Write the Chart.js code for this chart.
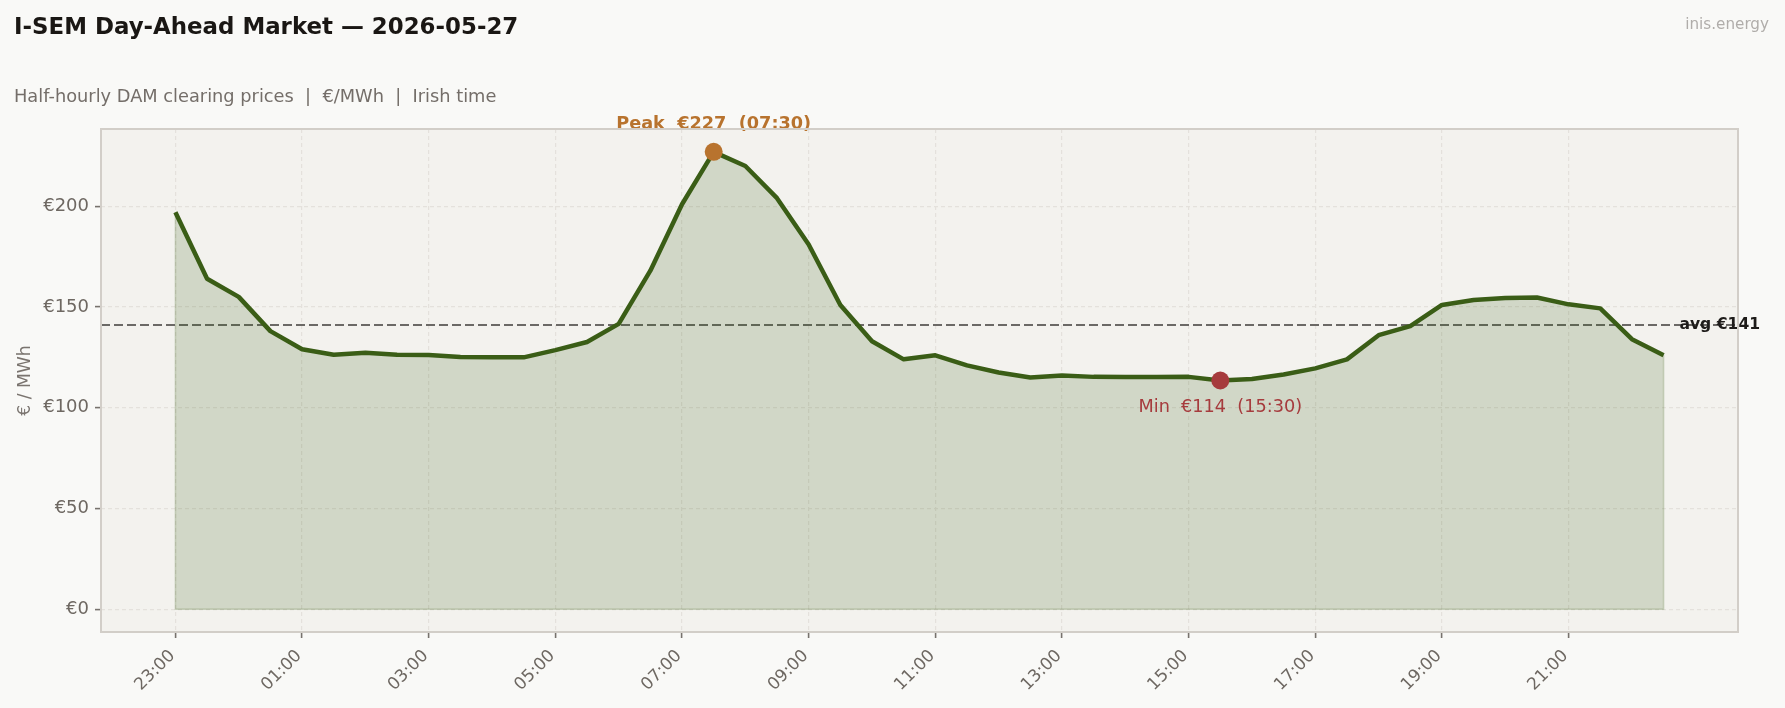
<!DOCTYPE html>
<html>
<head>
<meta charset="utf-8">
<script src="https://cdn.jsdelivr.net/npm/chart.js@4.4.1/dist/chart.umd.min.js"></script>
<style>
  html, body { margin: 0; padding: 0; background: #f9f9f7; }
  canvas { display: block; }
</style>
</head>
<body>
<canvas id="c" width="1785" height="708"></canvas>
<script>
// ---- data ----
const times = ["23:00","23:30","00:00","00:30","01:00","01:30","02:00","02:30","03:00","03:30","04:00","04:30",
  "05:00","05:30","06:00","06:30","07:00","07:30","08:00","08:30","09:00","09:30","10:00","10:30",
  "11:00","11:30","12:00","12:30","13:00","13:30","14:00","14:30","15:00","15:30","16:00","16:30",
  "17:00","17:30","18:00","18:30","19:00","19:30","20:00","20:30","21:00","21:30","22:00","22:30"];
const prices = [197, 164, 155, 138, 129, 126.3, 127.3, 126.3, 126.2, 125.2, 125, 125,
  128.6, 132.6, 141.6, 168, 201, 227, 220, 204, 181, 151, 133, 124,
  126, 121, 117.5, 115, 116, 115.3, 115.2, 115.2, 115.3, 113.5, 114.2, 116.5,
  119.5, 124, 136, 140.5, 151, 153.5, 154.5, 154.7, 151.3, 149.3, 134, 126];
const xTickLabels = ["23:00","01:00","03:00","05:00","07:00","09:00","11:00","13:00","15:00","17:00","19:00","21:00"];
const yTickValues = [0, 50, 100, 150, 200];
const titleText = "I-SEM Day-Ahead Market \u2014 2026-05-27";
const subtitleText = "Half-hourly DAM clearing prices  |  \u20ac/MWh  |  Irish time";
const watermarkText = "inis.energy";
const yAxisTitle = "\u20ac / MWh";

// ---- derived ----
const avg = prices.reduce((a, b) => a + b, 0) / prices.length;
const maxVal = Math.max(...prices), maxIdx = prices.indexOf(maxVal);
const minVal = Math.min(...prices), minIdx = prices.indexOf(minVal);
const lastIdx = prices.length - 1;
const xMargin = 0.05 * lastIdx;
const yMargin = 0.05 * maxVal;

const FONT = "'DejaVu Sans', 'Noto Sans', sans-serif";
const LINE = '#3a5d16';
const FILL = 'rgba(58,94,23,0.18)';
const PEAK = '#b8732e';
const MINC = '#a63b3d';
const TICKC = '#6e6862';

Chart.defaults.font.family = FONT;

const decor = {
  id: 'decor',
  beforeDraw(chart) {
    const {ctx, chartArea: a} = chart;
    ctx.save();
    ctx.fillStyle = '#f9f9f7';
    ctx.fillRect(0, 0, chart.width, chart.height);
    ctx.fillStyle = '#f3f2ee';
    ctx.fillRect(a.left, a.top, a.right - a.left, a.bottom - a.top);
    ctx.restore();
  },
  beforeDatasetsDraw(chart) {
    const {ctx, chartArea: a, scales: {x, y}} = chart;
    ctx.save();
    // fill edges
    ctx.strokeStyle = 'rgba(58,94,23,0.22)';
    ctx.lineWidth = 1.5;
    ctx.beginPath();
    ctx.moveTo(x.getPixelForValue(0), y.getPixelForValue(prices[0]));
    ctx.lineTo(x.getPixelForValue(0), y.getPixelForValue(0));
    ctx.lineTo(x.getPixelForValue(lastIdx), y.getPixelForValue(0));
    ctx.lineTo(x.getPixelForValue(lastIdx), y.getPixelForValue(prices[lastIdx]));
    ctx.stroke();
    // average line
    const ya = y.getPixelForValue(avg);
    ctx.strokeStyle = '#6b6966';
    ctx.lineWidth = 2;
    ctx.setLineDash([9, 4]);
    ctx.beginPath();
    ctx.moveTo(a.left, ya);
    ctx.lineTo(a.right, ya);
    ctx.stroke();
    ctx.restore();
  },
  afterDatasetsDraw(chart) {
    const {ctx, scales: {x, y}} = chart;
    ctx.save();
    // avg label
    ctx.fillStyle = '#1e1c1a';
    ctx.font = 'bold 15.6px ' + FONT;
    ctx.textAlign = 'left';
    ctx.textBaseline = 'middle';
    ctx.fillText('avg \u20ac' + Math.round(avg), x.getPixelForValue(lastIdx + 0.5), y.getPixelForValue(avg));
    // peak label
    ctx.fillStyle = PEAK;
    ctx.font = 'bold 17.7px ' + FONT;
    ctx.textAlign = 'center';
    ctx.textBaseline = 'alphabetic';
    ctx.fillText('Peak  \u20ac' + Math.round(maxVal) + '  (' + times[maxIdx] + ')',
      x.getPixelForValue(maxIdx), y.getPixelForValue(maxVal) - 23);
    // min label
    ctx.fillStyle = MINC;
    ctx.font = '17.7px ' + FONT;
    ctx.fillText('Min  \u20ac' + Math.round(minVal) + '  (' + times[minIdx] + ')',
      x.getPixelForValue(minIdx), y.getPixelForValue(minVal) + 31);
    ctx.restore();
  },
  afterDraw(chart) {
    const {ctx, chartArea: a} = chart;
    ctx.save();
    ctx.strokeStyle = '#d2cec8';
    ctx.lineWidth = 2;
    ctx.strokeRect(a.left, a.top, a.right - a.left, a.bottom - a.top);
    // titles
    ctx.textAlign = 'left';
    ctx.textBaseline = 'alphabetic';
    ctx.fillStyle = '#1a1714';
    ctx.font = 'bold 22.9px ' + FONT;
    ctx.fillText(titleText, 14, 33.5);
    ctx.fillStyle = '#746e69';
    ctx.font = '17.8px ' + FONT;
    ctx.fillText(subtitleText, 14, 101.5);
    ctx.fillStyle = '#b0adaa';
    ctx.font = '15.2px ' + FONT;
    ctx.textAlign = 'right';
    ctx.fillText(watermarkText, 1769, 28.5);
    ctx.restore();
  }
};

new Chart(document.getElementById('c'), {
  type: 'line',
  data: {
    datasets: [
      {
        label: 'Peak',
        data: [{x: maxIdx, y: maxVal}],
        showLine: false,
        pointRadius: 9,
        pointHoverRadius: 9,
        pointBackgroundColor: PEAK,
        pointBorderColor: PEAK,
        pointBorderWidth: 0,
        order: 0
      },
      {
        label: 'Min',
        data: [{x: minIdx, y: minVal}],
        showLine: false,
        pointRadius: 9,
        pointHoverRadius: 9,
        pointBackgroundColor: MINC,
        pointBorderColor: MINC,
        pointBorderWidth: 0,
        order: 0
      },
      {
        label: 'DAM price',
        data: prices.map((v, i) => ({x: i, y: v})),
        borderColor: LINE,
        borderWidth: 4.5,
        backgroundColor: FILL,
        fill: 'origin',
        pointRadius: 0,
        tension: 0,
        borderJoinStyle: 'round',
        order: 1
      }
    ]
  },
  options: {
    responsive: false,
    animation: false,
    devicePixelRatio: 1,
    layout: { padding: { left: 0, right: 47, top: 129, bottom: 0 } },
    plugins: {
      legend: { display: false },
      tooltip: { enabled: false },
      title: { display: false }
    },
    scales: {
      x: {
        type: 'linear',
        min: -xMargin,
        max: lastIdx + xMargin,
        afterBuildTicks(s) {
          s.ticks = times.map((t, i) => ({value: i, t})).filter(o => xTickLabels.includes(o.t)).map(o => ({value: o.value}));
        },
        afterFit(s) { s.height = 76; },
        ticks: {
          autoSkip: false,
          maxRotation: 45,
          minRotation: 45,
          padding: 8,
          labelOffset: -3,
          color: TICKC,
          font: { size: 17 },
          callback: (v) => times[v]
        },
        grid: {
          color: '#e4e1dc',
          lineWidth: 1.2,
          borderDash: [4, 3],
          drawTicks: true,
          tickLength: 6,
          tickColor: '#77726d',
          tickWidth: 1.6,
          tickBorderDash: []
        },
        border: { display: false, dash: [4, 3] }
      },
      y: {
        min: -yMargin,
        max: maxVal + yMargin,
        afterBuildTicks(s) { s.ticks = yTickValues.map(v => ({value: v})); },
        afterFit(s) { s.width = 101; },
        ticks: {
          padding: 6,
          color: TICKC,
          font: { size: 18 },
          callback: (v) => '\u20ac' + v
        },
        title: {
          display: true,
          text: yAxisTitle,
          color: '#7a746f',
          font: { size: 17.2 },
          padding: { top: 15.5, bottom: 0 }
        },
        grid: {
          color: '#e4e1dc',
          lineWidth: 1.2,
          borderDash: [4, 3],
          drawTicks: true,
          tickLength: 6,
          tickColor: '#77726d',
          tickWidth: 1.6,
          tickBorderDash: []
        },
        border: { display: false, dash: [4, 3] }
      }
    }
  },
  plugins: [decor]
});
</script>
</body>
</html>
